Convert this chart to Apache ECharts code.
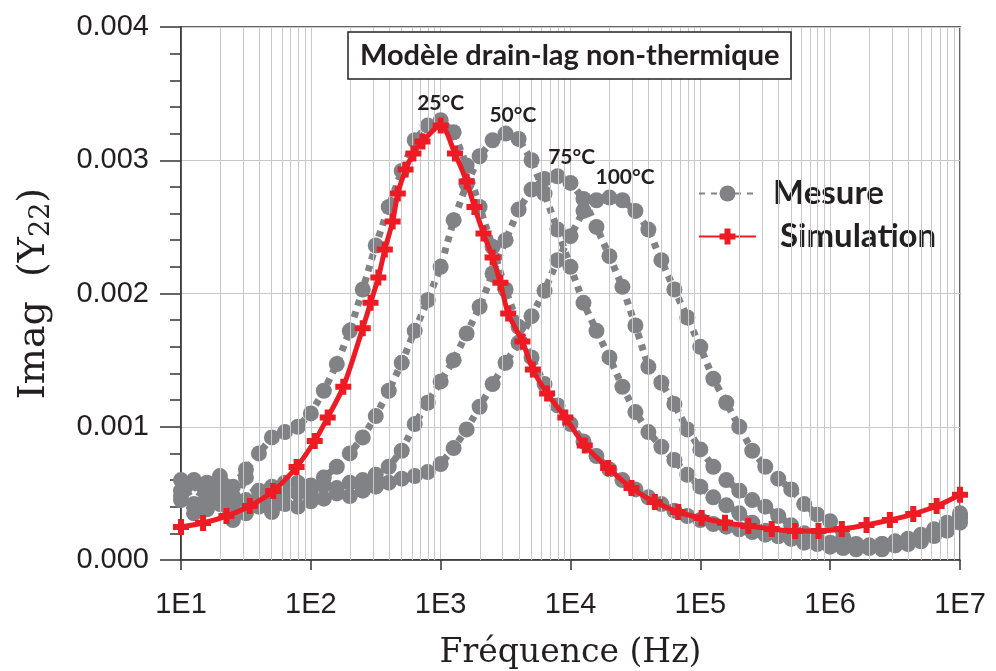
<!DOCTYPE html>
<html>
<head>
<meta charset="utf-8">
<script src="https://cdn.jsdelivr.net/npm/echarts@6/dist/echarts.min.js"></script>
<style>
html, body { margin: 0; padding: 0; background: #fff; }
#chart { width: 996px; height: 671px; }
</style>
</head>
<body>
<div id="chart"></div>
<script>
// grille de fréquence des mesures (log10 Hz)
var mesLogF = [1.0, 1.1, 1.2, 1.3, 1.4, 1.5, 1.6, 1.7, 1.8, 1.9,
	2.0, 2.1, 2.2, 2.3, 2.4, 2.5, 2.6, 2.7, 2.8, 2.9,
	3.0, 3.1, 3.2, 3.3, 3.4, 3.5, 3.6, 3.7, 3.8, 3.9,
	4.0, 4.1, 4.2, 4.3, 4.4, 4.5, 4.6, 4.7, 4.8, 4.9,
	5.0, 5.1, 5.2, 5.3, 5.4, 5.5, 5.6, 5.7, 5.8, 5.9,
	6.0, 6.1, 6.2, 6.3, 6.4, 6.5, 6.6, 6.7, 6.8, 6.9, 7.0];
// mesures Imag(Y22) par température
var mes25 = [0.00052, 0.00060, 0.00045, 0.00063, 0.00055, 0.00068, 0.00080, 0.00092, 0.00096, 0.00100,
	0.00110, 0.00127, 0.00147, 0.00172, 0.00203, 0.00236, 0.00265, 0.00292, 0.00315, 0.00326,
	0.00330, 0.00321, 0.00296, 0.00265, 0.00235, 0.00203, 0.00175, 0.00152, 0.00132, 0.00116,
	0.00102, 0.00089, 0.00078, 0.00068, 0.00060, 0.00053, 0.00047, 0.00042, 0.00037, 0.00033,
	0.00030, 0.00027, 0.00025, 0.00023, 0.00021, 0.00019, 0.00018, 0.00016, 0.00015, 0.00013,
	0.00012, 0.00011, 0.00010, 0.00011, 0.00012, 0.00014, 0.00016, 0.00019, 0.00023, 0.00028, 0.00035];
var mes50 = [0.00060, 0.00042, 0.00058, 0.00050, 0.00040, 0.00062, 0.00046, 0.00055, 0.00050, 0.00058,
	0.00056, 0.00062, 0.00070, 0.00080, 0.00092, 0.00108, 0.00127, 0.00148, 0.00172, 0.00195,
	0.00220, 0.00255, 0.00282, 0.00303, 0.00315, 0.00320, 0.00316, 0.00300, 0.00275, 0.00248,
	0.00220, 0.00193, 0.00172, 0.00152, 0.00130, 0.00111, 0.00096, 0.00085, 0.00075, 0.00064,
	0.00055, 0.00047, 0.00041, 0.00035, 0.00028, 0.00022, 0.00018, 0.00016, 0.00013, 0.00012,
	0.00010, 0.00009, 0.00011, 0.00009, 0.00012, 0.00013, 0.00015, 0.00018, 0.00022, 0.00027, 0.00033];
var mes75 = [0.00045, 0.00058, 0.00038, 0.00055, 0.00048, 0.00035, 0.00052, 0.00045, 0.00058, 0.00050,
	0.00052, 0.00056, 0.00054, 0.00058, 0.00060, 0.00064, 0.00070, 0.00082, 0.00102, 0.00118,
	0.00134, 0.00150, 0.00170, 0.00190, 0.00215, 0.00240, 0.00263, 0.00278, 0.00286, 0.00288,
	0.00283, 0.00271, 0.00250, 0.00228, 0.00205, 0.00176, 0.00145, 0.00133, 0.00117, 0.00098,
	0.00083, 0.00070, 0.00060, 0.00052, 0.00045, 0.00040, 0.00033, 0.00026, 0.00020, 0.00016,
	0.00013, 0.00011, 0.00008, 0.00010, 0.00008, 0.00011, 0.00013, 0.00016, 0.00020, 0.00025, 0.00031];
var mes100 = [0.00048, 0.00035, 0.00052, 0.00042, 0.00030, 0.00045, 0.00040, 0.00036, 0.00042, 0.00040,
	0.00044, 0.00046, 0.00050, 0.00048, 0.00052, 0.00055, 0.00058, 0.00061, 0.00063, 0.00066,
	0.00072, 0.00084, 0.00098, 0.00115, 0.00132, 0.00148, 0.00163, 0.00183, 0.00202, 0.00225,
	0.00243, 0.00262, 0.00270, 0.00272, 0.00270, 0.00262, 0.00248, 0.00225, 0.00203, 0.00182,
	0.00160, 0.00136, 0.00118, 0.00100, 0.00082, 0.00070, 0.00061, 0.00053, 0.00042, 0.00034,
	0.00029, 0.00017, 0.00012, 0.00010, 0.00009, 0.00011, 0.00012, 0.00014, 0.00018, 0.00022, 0.00028];
// simulation (modèle drain-lag), 25°C
var simLogF = [1.00, 1.17, 1.35, 1.53, 1.71, 1.89, 2.03, 2.13, 2.25, 2.40, 2.46, 2.52, 2.57, 2.63, 2.67, 2.73,
	2.79, 2.86, 3.00, 3.11, 3.20, 3.26, 3.33, 3.40, 3.46, 3.52, 3.63, 3.71, 3.82, 3.96, 4.11, 4.29,
	4.47, 4.65, 4.83, 5.01, 5.19, 5.37, 5.55, 5.73, 5.91, 6.09, 6.28, 6.46, 6.64, 6.82, 7.00];
var simY = [0.000248, 0.000278, 0.00033, 0.000405, 0.000518, 0.000698, 0.000893, 0.00107, 0.0013, 0.00174, 0.00193, 0.00212, 0.00233, 0.00254, 0.00275, 0.00293,
	0.00305, 0.00314, 0.00326, 0.00305, 0.00284, 0.00265, 0.00245, 0.00227, 0.00208, 0.00185, 0.00164, 0.00143, 0.00125, 0.00107, 0.00086, 0.00069,
	0.00054, 0.000435, 0.00036, 0.000315, 0.00028, 0.000255, 0.000233, 0.000218, 0.000218, 0.000233, 0.000263, 0.0003, 0.000345, 0.000405, 0.00049];
// étiquettes de température
var tempLabels = ['25°C', '50°C', '75°C', '100°C'];
var tempLabelF = [1000, 3600, 10200, 26300];
var tempLabelY = [0.00343, 0.00334, 0.00302, 0.00287];

var grisMesure = '#808285';
var rougeSimu = '#ED1C24';
var texteNoir = '#231F20';

function toPoints(logF, vals) {
	var pts = [];
	for (var i = 0; i < logF.length; i++) {
		pts.push([Math.pow(10, logF[i]), vals[i]]);
	}
	return pts;
}

// lignes de grille secondaires (2..9 x 10^k)
var minorLines = [];
for (var k = 1; k < 7; k++) {
	for (var m = 2; m < 10; m++) {
		minorLines.push({ xAxis: m * Math.pow(10, k) });
	}
}

var myChart = echarts.init(document.getElementById('chart'));

var mesures = [mes25, mes50, mes75, mes100];
var series = [];
series.push({
	name: 'grille',
	type: 'line',
	data: [],
	silent: true,
	z: 1,
	markLine: {
		silent: true,
		symbol: 'none',
		label: { show: false },
		lineStyle: { color: '#C8C8C8', width: 1, type: 'solid' },
		animation: false,
		data: minorLines
	}
});
for (var i = 0; i < mesures.length; i++) {
	series.push({
		name: 'Mesure',
		type: 'line',
		data: toPoints(mesLogF, mesures[i]),
		symbol: 'circle',
		symbolSize: 16,
		z: 3,
		itemStyle: { color: grisMesure },
		lineStyle: { color: grisMesure, width: 7, type: [6, 6] },
		markPoint: {
			symbol: 'circle',
			symbolSize: 1,
			itemStyle: { color: 'rgba(0,0,0,0)' },
			label: {
				show: true,
				position: 'inside',
				formatter: '{b}',
				fontFamily: 'Lato',
				fontWeight: 'bold',
				fontSize: 21,
				color: texteNoir
			},
			data: [{ name: tempLabels[i], coord: [tempLabelF[i], tempLabelY[i]] }]
		}
	});
}
series.push({
	name: 'Simulation',
	type: 'line',
	data: toPoints(simLogF, simY),
	smooth: 0.3,
	symbol: 'path://M5,0H11V5H16V11H11V16H5V11H0V5H5Z',
	symbolSize: 16,
	z: 5,
	itemStyle: { color: rougeSimu },
	lineStyle: { color: rougeSimu, width: 5 }
});

var option = {
	animation: false,
	backgroundColor: '#fff',
	title: {
		text: 'Modèle drain-lag non-thermique',
		left: 348,
		top: 32,
		padding: [9, 12, 9, 12],
		borderColor: '#222',
		borderWidth: 1.5,
		backgroundColor: '#fff',
		textStyle: { fontFamily: 'Lato', fontWeight: 'bold', fontSize: 29, color: texteNoir }
	},
	legend: {
		data: [
			{ name: 'Mesure', textStyle: { padding: [0, 0, 0, 12] } },
			{ name: 'Simulation', textStyle: { padding: [0, 0, 0, 19] } }
		],
		orient: 'vertical',
		left: 693,
		top: 172,
		itemGap: 10,
		itemWidth: 57,
		itemHeight: 20,
		textStyle: { fontFamily: 'Lato', fontWeight: 'bold', fontSize: 33, color: texteNoir }
	},
	grid: {
		left: 181,
		right: 36,
		top: 27,
		bottom: 111,
		outerBoundsMode: 'none',
		show: true,
		borderColor: '#333',
		borderWidth: 1.5,
		backgroundColor: 'rgba(0,0,0,0)'
	},
	xAxis: {
		type: 'log',
		logBase: 10,
		min: 10,
		max: 10000000,
		name: 'Fréquence (Hz)',
		nameLocation: 'middle',
		nameGap: 77,
		nameTextStyle: { fontFamily: 'DejaVu Serif', fontSize: 33, color: texteNoir },
		axisLine: { lineStyle: { color: '#333', width: 1.5 } },
		axisTick: { show: true, inside: false, length: 10, lineStyle: { color: '#333', width: 1.5 } },
		axisLabel: {
			margin: 30,
			fontFamily: 'Liberation Sans',
			fontSize: 29,
			color: texteNoir,
			formatter: function(v) {
				return '1E' + Math.round(Math.log10(v));
			}
		},
		splitLine: { show: true, lineStyle: { color: '#C8C8C8', width: 1 } }
	},
	yAxis: {
		type: 'value',
		min: 0,
		max: 0.004,
		interval: 0.001,
		name: 'Imag  (Y{s|22})',
		nameLocation: 'middle',
		nameRotate: 90,
		nameGap: 126,
		nameTextStyle: {
			fontFamily: 'DejaVu Serif',
			fontSize: 38,
			color: texteNoir,
			rich: {
				s: { fontFamily: 'DejaVu Serif', fontSize: 27, color: texteNoir, padding: [14, 0, 0, 0] }
			}
		},
		axisLine: { show: true, lineStyle: { color: '#333', width: 1.5 } },
		axisTick: { show: true, inside: false, length: 21, lineStyle: { color: '#333', width: 1.5 } },
		minorTick: { show: true, splitNumber: 5, length: 11, lineStyle: { color: '#333', width: 1.5 } },
		axisLabel: {
			margin: 32,
			fontFamily: 'Liberation Sans',
			fontSize: 29,
			color: texteNoir,
			formatter: function(v) {
				return v.toFixed(3);
			}
		},
		splitLine: { show: true, lineStyle: { color: '#C8C8C8', width: 1 } }
	},
	series: series
};
myChart.setOption(option);
</script>
</body>
</html>
